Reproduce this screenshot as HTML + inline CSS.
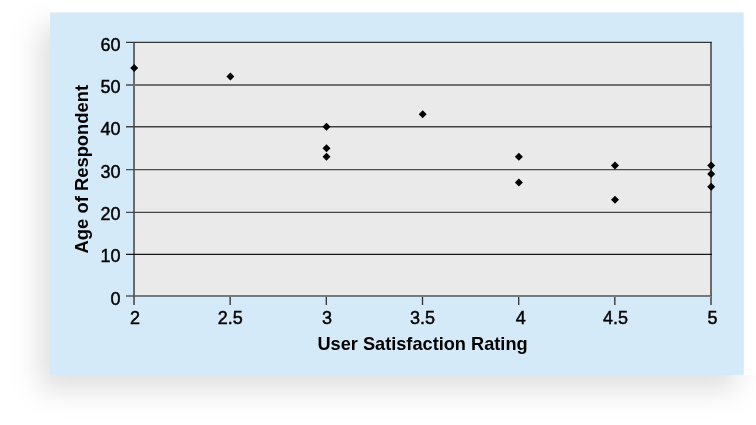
<!DOCTYPE html>
<html><head><meta charset="utf-8">
<style>
html,body{margin:0;padding:0;background:#fff;width:756px;height:425px;overflow:hidden}
#shc{position:absolute;left:0;top:0;width:756px;height:425px;clip-path:polygon(0 0,50px 0,50px 12px,744px 12px,744px 375px,756px 375px,756px 425px,0 425px)}
#sh{position:absolute;left:40px;top:26px;width:696px;height:364px;background:rgba(0,0,0,0.125);filter:blur(14px)}
svg{position:absolute;left:0;top:0}
text{font-family:"Liberation Sans",sans-serif;fill:#000}
.t{font-size:18px;stroke:#000;stroke-width:0.45px}
.bx{font-size:18.2px;font-weight:bold}
.by{font-size:18.4px;font-weight:bold}
</style></head>
<body>
<div id="shc"><div id="sh"></div></div>
<svg width="756" height="425" viewBox="0 0 756 425">
 <rect x="50" y="12.5" width="693.7" height="362.5" fill="#d4eaf8"/>
 <rect x="134" y="42.2" width="577" height="253.9" fill="#eaeaea"/>
 <g stroke="#6a6a6a" stroke-width="2.0" fill="none">
  <line x1="134" y1="42.2" x2="134" y2="305"/>
  <line x1="711" y1="42.2" x2="711" y2="296.1"/>
 </g>
 <g stroke="#383838" stroke-width="1.4" fill="none">
  <line x1="230.17" y1="297" x2="230.17" y2="305"/>
  <line x1="326.33" y1="297" x2="326.33" y2="305"/>
  <line x1="422.5" y1="297" x2="422.5" y2="305"/>
  <line x1="518.67" y1="297" x2="518.67" y2="305"/>
  <line x1="614.83" y1="297" x2="614.83" y2="305"/>
  <line x1="711" y1="297" x2="711" y2="305"/>
 </g>
 <g fill="none">
  <line x1="126" y1="296" x2="712" y2="296" stroke="#52565a" stroke-width="1.5"/>
  <line x1="126" y1="254.4" x2="712" y2="254.4" stroke="#161616" stroke-width="1.2"/>
  <line x1="126" y1="212.4" x2="712" y2="212.4" stroke="#464646" stroke-width="1.3"/>
  <line x1="126" y1="169.6" x2="712" y2="169.6" stroke="#4e4e4e" stroke-width="1.4"/>
  <line x1="126" y1="126.7" x2="712" y2="126.7" stroke="#404040" stroke-width="1.5"/>
  <line x1="126" y1="84.9" x2="712" y2="84.9" stroke="#707070" stroke-width="2.0"/>
  <line x1="126" y1="42.4" x2="712" y2="42.4" stroke="#363636" stroke-width="1.3"/>
 </g>
 <g class="t" text-anchor="end">
  <text x="120.5" y="50.8">60</text>
  <text x="120.5" y="93.12">50</text>
  <text x="120.5" y="135.43">40</text>
  <text x="120.5" y="177.75">30</text>
  <text x="120.5" y="220.07">20</text>
  <text x="120.5" y="262.38">10</text>
  <text x="120.5" y="304.7">0</text>
 </g>
 <g class="t" text-anchor="middle">
  <text x="134.9" y="323.5">2</text>
  <text x="230.37" y="323.5">2.5</text>
  <text x="326.93" y="323.5">3</text>
  <text x="422.6" y="323.5">3.5</text>
  <text x="520.77" y="323.5">4</text>
  <text x="615.43" y="323.5">4.5</text>
  <text x="712.4" y="323.5">5</text>
 </g>
 <text class="bx" x="422.5" y="349.5" text-anchor="middle">User Satisfaction Rating</text>
 <text class="by" transform="translate(88,169.15) rotate(-90)" text-anchor="middle">Age of Respondent</text>
 <g fill="#000">
  <path d="M134.2 64l4 4-4 4-4-4z"/>
  <path d="M230.37 72.5l4 4-4 4-4-4z"/>
  <path d="M326.53 122.8l4 4-4 4-4-4z"/>
  <path d="M326.53 144.25l4 4-4 4-4-4z"/>
  <path d="M326.53 152.83l4 4-4 4-4-4z"/>
  <path d="M422.7 110.26l4 4-4 4-4-4z"/>
  <path d="M518.87 152.83l4 4-4 4-4-4z"/>
  <path d="M518.87 178.54l4 4-4 4-4-4z"/>
  <path d="M615.03 161.41l4 4-4 4-4-4z"/>
  <path d="M615.03 195.66l4 4-4 4-4-4z"/>
  <path d="M711.2 161.41l4 4-4 4-4-4z"/>
  <path d="M711.2 169.98l4 4-4 4-4-4z"/>
  <path d="M711.2 182.82l4 4-4 4-4-4z"/>
 </g>
</svg>
</body></html>
